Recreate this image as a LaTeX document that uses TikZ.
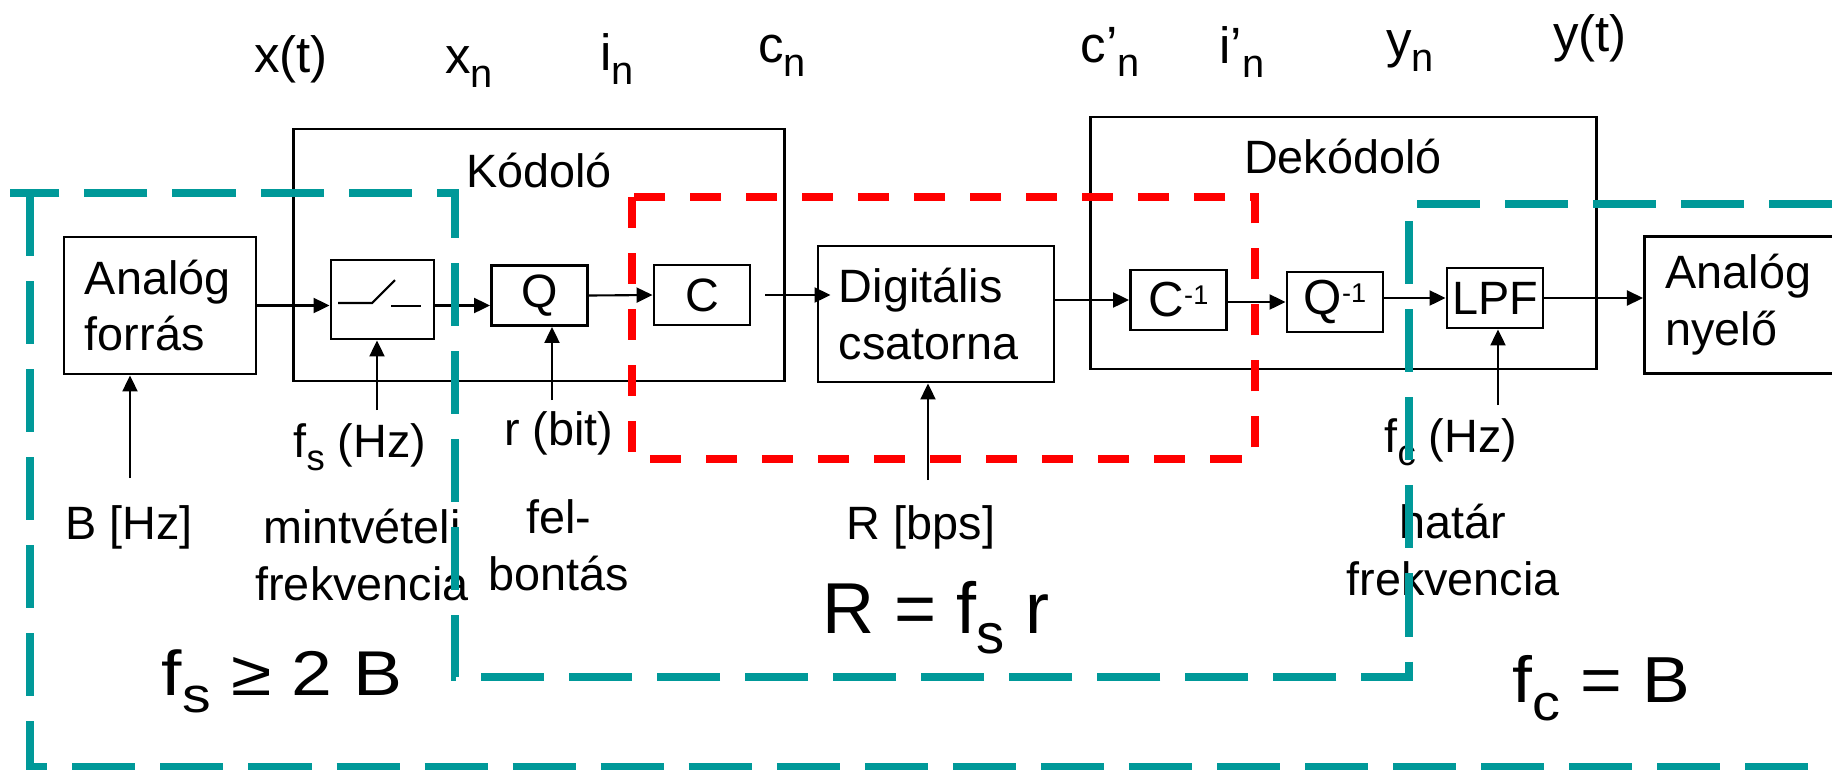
\documentclass[tikz,border=0pt]{standalone}
\usepackage{fontspec}
\setmainfont{Liberation Sans}
\usepackage{graphicx}
\usetikzlibrary{arrows.meta}

\definecolor{tealdash}{RGB}{0,153,153}
\definecolor{reddash}{RGB}{255,0,0}

\newcommand{\lowidx}[1]{\raisebox{-0.28em}{\scalebox{0.78}{#1}}}
\newcommand{\hiidx}[1]{\raisebox{0.25em}{\scalebox{0.55}{#1}}}

\begin{document}
\begin{tikzpicture}[x=0.01cm, y=-0.01cm,
    txt/.style={font=\fontsize{13.3}{16.2}\selectfont, inner sep=0pt},
    sig/.style={font=\fontsize{14.5}{17}\selectfont, inner sep=0pt, anchor=base},
    blk/.style={draw, line width=0.8pt, txt, minimum height=0.6cm, minimum width=0.96cm},
    bigblk/.style={draw, line width=0.8pt, txt, minimum height=1.37cm, inner xsep=0.21cm, align=left},
    unitbox/.style={draw, line width=0.8pt, inner sep=0pt},
    arr/.style={-{Triangle[length=0.16cm, width=0.15cm]}, line width=0.6pt},
    tealline/.style={draw=tealdash, line width=0.075cm, dash pattern=on 0.63cm off 0.25cm},
    redline/.style={draw=reddash, line width=0.075cm, dash pattern=on 0.31cm off 0.25cm},
    formula/.style={inner sep=0pt, anchor=base west}]
    \useasboundingbox (0,0) rectangle (1832,769);
    \clip (0,0) rectangle (1832,769);

    % Frames (Kódoló, Dekódoló)
    \node[unitbox, minimum width=4.9cm, minimum height=2.52cm] (kod) at (539,255) {};
    \node[txt, anchor=base] (kodtxt) at (539,187) {Kódoló};
    \node[unitbox, minimum width=5.05cm, minimum height=2.52cm] (dek) at (1343.5,243) {};
    \node[txt, anchor=base] (dektxt) at (1343,173) {Dekódoló};

    % Blocks
    \node[bigblk, text width=1.5cm] (forras) at (160,305.5) {Analóg\\forrás};
    \node[blk, minimum width=1.03cm, minimum height=0.79cm] (sw) at (382.5,299.5) {};
    \node[blk] (q) at (539.5,295.5) {Q};
    \node[blk] (c) at (702,295) {C};
    \node[bigblk, text width=1.94cm, minimum height=1.36cm] (csat) at (936,314) {Digitális\\csatorna};
    \node[blk, font=\fontsize{14}{16}\selectfont] (cinv) at (1178.5,300) {C\hiidx{-1}};
    \node[blk, font=\fontsize{14}{16}\selectfont] (qinv) at (1335,302) {Q\hiidx{-1}};
    \node[blk] (lpf) at (1495,298) {LPF};
    \node[bigblk, text width=2.29cm, anchor=west] (nyelo) at (1643,305) {Analóg\\nyelő};

    % Switch symbol
    \draw[line width=0.6pt] ([shift={(-44.5,3.5)}]sw.center) -- ++(34,0) -- ++(23,-23);
    \draw[line width=0.6pt] ([shift={(8.5,6.5)}]sw.center) -- ++(30,0);

    % Edges
    \draw[arr] (forras.east) -- (forras.east -| sw.west);
    \draw[arr] (sw.east |- forras.east) -- (forras.east -| q.west);
    \draw[arr] (q.east) -- (c.west);
    \draw[arr] ([xshift=0.14cm]c.east) -- ([xshift=0.14cm]c.east -| csat.west);
    \draw[arr] (csat.east |- cinv.west) -- (cinv.west);
    \draw[arr] (qinv.west -| cinv.east) -- (qinv.west);
    \draw[arr] (lpf.west -| qinv.east) -- (lpf.west);
    \draw[arr] (lpf.east) -- (lpf.east -| nyelo.west);

    % Parameters
    \coordinate (bfoot) at (130,478);
    \coordinate (fsfoot) at (377,410);
    \coordinate (rfoot) at (552,400);
    \coordinate (Rfoot) at (928,480);
    \coordinate (fcfoot) at (1498,405);
    \draw[arr] (bfoot) -- (bfoot |- forras.south);
    \draw[arr] (fsfoot) -- (fsfoot |- sw.south);
    \draw[arr] (rfoot) -- (rfoot |- q.south);
    \draw[arr] (Rfoot) -- (Rfoot |- csat.south);
    \draw[arr] (fcfoot) -- (fcfoot |- lpf.south);

    \node[txt, anchor=base] (blbl) at (129,539) {B [Hz]};
    \node[txt, anchor=base] (fslbl) at (360,457) {f\lowidx{s} (Hz)};
    \node[txt, anchor=base] (rlbl) at (559,445) {r (bit)};
    \node[txt, anchor=base] (Rlbl) at (921,539) {R [bps]};
    \node[txt, anchor=base] (fclbl) at (1451,452) {f\lowidx{c} (Hz)};
    \node[txt, align=center, anchor=base] (mintlbl) at (362,600) {mintvételi\\frekvencia};
    \node[txt, align=center, anchor=base] (fellbl) at (559,590) {fel-\\bontás};
    \node[txt, align=center, anchor=base] (hatarlbl) at (1453,595) {határ\\frekvencia};

    % Signals
    \node[sig] (xt) at (291,72) {x(t)};
    \node[sig] (xn) at (469,73) {x\lowidx{n}};
    \node[sig] (inlbl) at (617,70) {i\lowidx{n}};
    \node[sig] (cn) at (782,62) {c\lowidx{n}};
    \node[sig] (cpn) at (1110,62) {c’\lowidx{n}};
    \node[sig] (ipn) at (1242,63) {i’\lowidx{n}};
    \node[sig] (yn) at (1410,57) {y\lowidx{n}};
    \node[sig] (yt) at (1590,51) {y(t)};

    % Conditions
    \node[formula, font=\fontsize{18}{20}\selectfont] (nyq) at (161,695) {\scalebox{1.16}[1]{f\lowidx{s} ≥ 2 B}};
    \node[formula, font=\fontsize{20.5}{23}\selectfont] (rate) at (822,633) {R = f\lowidx{s} r};
    \node[formula, font=\fontsize{18.5}{20}\selectfont] (cut) at (1512,702) {\scalebox{1.1}[1]{f\lowidx{c} = B}};

    % Dashed regions
    \draw[tealline] (1832,204) -- (1409,204) -- (1409,677) -- (455,677) -- (455,193) -- (10,193);
    \draw[tealline] (30,193) -- (30,767) -- (1840,767);
    \draw[redline] (632,197) rectangle (1255,459);
\end{tikzpicture}
\end{document}
